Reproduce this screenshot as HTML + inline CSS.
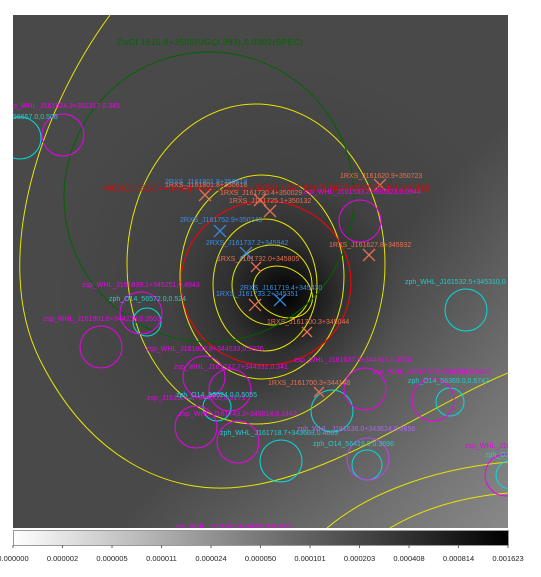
<!DOCTYPE html>
<html><head><meta charset="utf-8"><style>
html,body{margin:0;padding:0;background:#fff;}
svg{display:block;font-family:"Liberation Sans",sans-serif;}
</style></head><body>
<svg width="541" height="577" viewBox="0 0 541 577">
<defs>
<radialGradient id="bg" cx="285" cy="295" r="230" gradientUnits="userSpaceOnUse">
<stop offset="0" stop-color="#000"/><stop offset="0.1" stop-color="#151515"/><stop offset="0.25" stop-color="#303030"/><stop offset="0.5" stop-color="#424242"/><stop offset="1" stop-color="#494949"/>
</radialGradient>
<linearGradient id="br" x1="0" y1="0" x2="1" y2="1"><stop offset="0.6" stop-color="#fff" stop-opacity="0"/><stop offset="1" stop-color="#fff" stop-opacity="0.35"/></linearGradient>
<linearGradient id="cb" x1="0" x2="1"><stop offset="0" stop-color="#fff"/><stop offset="0.5" stop-color="#777"/><stop offset="1" stop-color="#000"/></linearGradient>
<clipPath id="cp"><rect x="13" y="15" width="495" height="513"/></clipPath>
</defs>
<rect x="13" y="15" width="495" height="513" fill="url(#bg)"/>
<rect x="13" y="15" width="495" height="513" fill="url(#br)"/>
<g clip-path="url(#cp)" fill="none" stroke-width="1">
<path d="M110,15 C40,110 -10,260 40,360 C90,460 170,495 240,487 C330,478 430,405 508,373" stroke="#e6e600"/>
<path d="M327,528 C360,500 420,470 508,462" stroke="#e6e600"/>
<path d="M390,528 C420,510 460,497 508,493" stroke="#e6e600"/>
<ellipse cx="256" cy="264" rx="129" ry="160" stroke="#e6e600"/>
<ellipse cx="262" cy="277" rx="82" ry="102" stroke="#e6e600"/>
<ellipse cx="265" cy="285" rx="52" ry="66" stroke="#e6e600"/>
<ellipse cx="272" cy="285" rx="40" ry="40" stroke="#e6e600"/>
<ellipse cx="283" cy="292" rx="31" ry="24" transform="rotate(30 283 292)" stroke="#e6e600"/>
<ellipse cx="266" cy="283" rx="85" ry="82" stroke="#f00"/>
<circle cx="209" cy="197" r="145" stroke="#006400"/>
<g stroke="#0dd">
<circle cx="20" cy="138" r="21"/><circle cx="147" cy="322" r="14"/><circle cx="466" cy="310" r="21"/><circle cx="217" cy="407" r="14"/><circle cx="281" cy="461" r="21"/><circle cx="332" cy="411" r="21"/><circle cx="450" cy="402" r="14"/><circle cx="367" cy="465" r="15"/><circle cx="510" cy="475" r="14"/>
</g>
<g stroke="#e0e">
<circle cx="63" cy="135" r="21"/><circle cx="360" cy="221" r="21"/><circle cx="141" cy="313" r="21"/><circle cx="101" cy="347" r="21"/><circle cx="204" cy="377" r="21"/><circle cx="230" cy="390" r="21"/><circle cx="196" cy="427" r="21"/><circle cx="238" cy="442" r="21"/><circle cx="365" cy="389" r="21"/><circle cx="433" cy="400" r="21"/><circle cx="368" cy="459" r="21" stroke="#b4e"/><circle cx="506" cy="475" r="21"/>
</g>
<g stroke="#e87050" stroke-width="1.3">
<path d="M199,189l12,12M211,189l-12,12"/><path d="M254,194l12,12M266,194l-12,12"/><path d="M264,205l12,12M276,205l-12,12"/><path d="M374,179l12,12M386,179l-12,12"/><path d="M363,249l12,12M375,249l-12,12"/><path d="M251,262l10,10M261,262l-10,10"/><path d="M249,299l12,12M261,299l-12,12"/><path d="M302,327l10,10M312,327l-10,10"/><path d="M314,387l10,10M324,387l-10,10"/>
</g>
<g stroke="#3388dd" stroke-width="1.3">
<path d="M214,225l12,12M226,225l-12,12"/><path d="M240,247l12,12M252,247l-12,12"/><path d="M274,294l12,12M286,294l-12,12"/>
</g>
<g font-size="7">
<text x="117" y="45" fill="#006400" font-size="8.5" textLength="186">ZwCl 1615.8+3505(UGCl 393),0.0302(SPEC)</text>
<text x="104" y="191" fill="#e00" font-size="8.5" textLength="326">MCXCJ1617.4+3458| RXC J1617.4+3458| NGC 6107| NORAS/REFLEX,0.0315</text>
<g fill="#e0e">
<text x="13" y="108">p_WHL_J161924.3+351317,0.345</text>
<text x="303" y="194">zsp_WHL_J161533.2+350323,0.0944</text>
<text x="82" y="287">zsp_WHL_J161839.1+345251,0.4943</text>
<text x="43" y="321">zsp_WHL_J161901.6+344238,0.3503</text>
<text x="146" y="351">zsp_WHL_J161802.8+344533,0.5026</text>
<text x="294" y="362">zsp_WHL_J161637.8+344417,0.4524</text>
<text x="174" y="369">zsp_WHL_J161747.7+344332,0.341</text>
<text x="373" y="374">zsp_WHL_J161559.9+344258,0.5645</text>
<text x="147" y="400">zsp_J161807.5+344000,0.3173</text>
<text x="179" y="416">zsp_WHL_J161743.2+343814,0.1443</text>
<text x="465" y="448">zsp_WHL_J16150</text>
<text x="175" y="529">zsp_WHL_J161745.4+342519,0.3676</text>
</g>
<g fill="#2cc">
<text x="13" y="119">56657.0,0.506</text>
<text x="109" y="301">zph_O14_56572.0,0.524</text>
<text x="405" y="284">zph_WHL_J161532.5+345310,0</text>
<text x="176" y="397">zph_O14_56624.0,0.5055</text>
<text x="408" y="383">zph_O14_56369.0,0.5742</text>
<text x="220" y="435">zph_WHL_J161718.7+343603,0.4063</text>
<text x="313" y="446">zph_O14_56419.0,0.3696</text>
<text x="485" y="457">zph_O14_5</text>
</g>
<g fill="#e87050">
<text x="340" y="178">1RXS_J161620.9+350723</text>
<text x="220" y="195">1RXS_J161730.4+350029</text>
<text x="229" y="203">1RXS_J161725.1+350132</text>
<text x="329" y="247">1RXS_J161627.8+345932</text>
<text x="217" y="261">1RXS_J161732.0+345805</text>
<text x="267" y="324">1RXS_J161700.3+345044</text>
<text x="268" y="385">1RXS_J161700.3+344148</text>
<text x="165" y="187">1RXS_J161801.8+350618</text>
</g>
<g fill="#3a8ee6">
<text x="165" y="184">2RXS_J161801.8+350618</text>
<text x="180" y="222">2RXS_J161752.9+350249</text>
<text x="206" y="245">2RXS_J161737.2+345942</text>
<text x="240" y="290">2RXS_J161719.4+345430</text>
<text x="216" y="296">1RXS_J161733.2+345351</text>
</g>
<text x="297" y="431" fill="#a6e">zph_WHL_J161636.0+343624,0.3856</text>
</g>
</g>
<rect x="13.5" y="530.5" width="495" height="15" fill="url(#cb)" stroke="#999"/>
<g id="ticks" font-size="7.5" fill="#222" text-anchor="middle"></g>
<script>
const tickLabels=["0.000000","0.000002","0.000005","0.000011","0.000024","0.000050","0.000101","0.000203","0.000408","0.000814","0.001623"];
const g=document.getElementById('ticks');
tickLabels.forEach((t,i)=>{
 const x=13+i*49.5;
 const l=document.createElementNS('http://www.w3.org/2000/svg','line');
 l.setAttribute('x1',x);l.setAttribute('x2',x);l.setAttribute('y1',545);l.setAttribute('y2',548);l.setAttribute('stroke','#666');
 
 
 g.appendChild(l);
 const s=document.createElementNS('http://www.w3.org/2000/svg','text');
 s.setAttribute('x',x);s.setAttribute('y',561);s.textContent=t;
 
 
 g.appendChild(s);
});
</script>
</svg>
</body></html>
